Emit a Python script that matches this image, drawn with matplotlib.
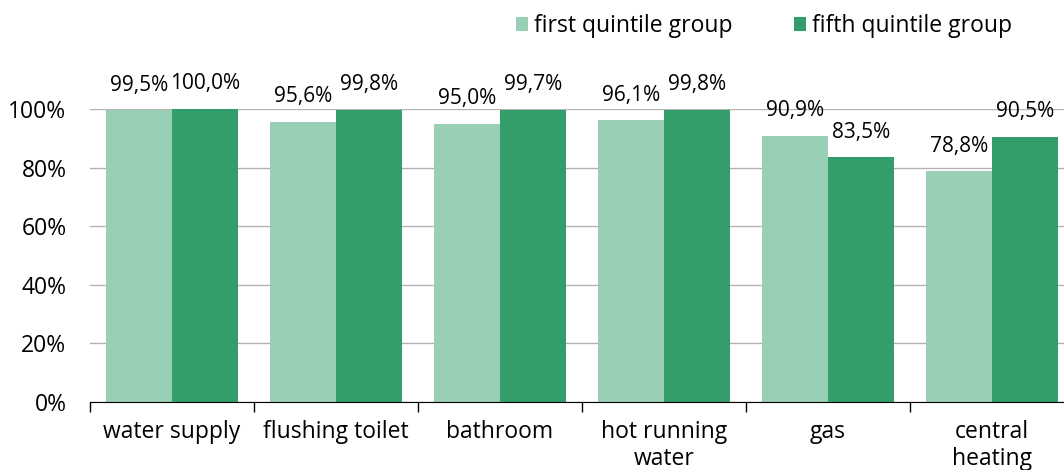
import matplotlib
matplotlib.use('Agg')
import matplotlib.pyplot as plt
import numpy as np

categories = ['water supply', 'flushing toilet', 'bathroom', 'hot running\nwater', 'gas', 'central\nheating']
first_q = [99.5, 95.6, 95.0, 96.1, 90.9, 78.8]
fifth_q = [100.0, 99.8, 99.7, 99.8, 83.5, 90.5]
series_names = ['first quintile group', 'fifth quintile group']
yticks = [0, 20, 40, 60, 80, 100]

light = '#99cfb4'
dark = '#339e69'

plt.rcParams['font.family'] = ['Open Sans', 'DejaVu Sans']
fs = 16.5

fig = plt.figure(figsize=(10.64, 4.70), dpi=100)
ax = fig.add_axes([90 / 1064, 68 / 470, 984 / 1064, 293 / 470])

x = np.arange(len(categories))
w = 0.405
b1 = ax.bar(x - w / 2, first_q, w, color=light, label=series_names[0], zorder=2)
b2 = ax.bar(x + w / 2, fifth_q, w, color=dark, label=series_names[1], zorder=2)

for bars, vals in ((b1, first_q), (b2, fifth_q)):
    for rect, v in zip(bars, vals):
        ax.annotate(f'{v:.1f}%'.replace('.', ','),
                    (rect.get_x() + rect.get_width() / 2, v),
                    xytext=(0, 25), textcoords='offset pixels',
                    ha='center', va='center', fontsize=15, annotation_clip=False)

ax.set_xlim(-0.5, len(categories) - 0.5)
ax.set_ylim(0, 100)
ax.set_yticks(yticks)
ax.set_yticklabels([f'{t}%' for t in yticks], fontsize=fs)
ax.tick_params(axis='y', length=0, pad=17)
ax.set_xticks(np.arange(len(categories) + 1) - 0.5)
ax.set_xticklabels([])
ax.set_xticks(x, minor=True)
ax.set_xticklabels(categories, minor=True, fontsize=fs, linespacing=1.15)
ax.tick_params(axis='x', which='major', length=7, width=1)
ax.tick_params(axis='x', which='minor', length=0, pad=13)

ax.grid(axis='y', color='#b3b3b3', linewidth=1, zorder=0)
for s in ('top', 'right', 'left'):
    ax.spines[s].set_visible(False)
ax.spines['bottom'].set_zorder(3)

fig.legend(loc='center', bbox_to_anchor=(764 / 1064, 1 - 26 / 470), ncol=2,
           frameon=False, fontsize=fs, handlelength=0.52, handleheight=0.52,
           handletextpad=0.26, columnspacing=2.7)

fig.savefig('out.png', dpi=100)
